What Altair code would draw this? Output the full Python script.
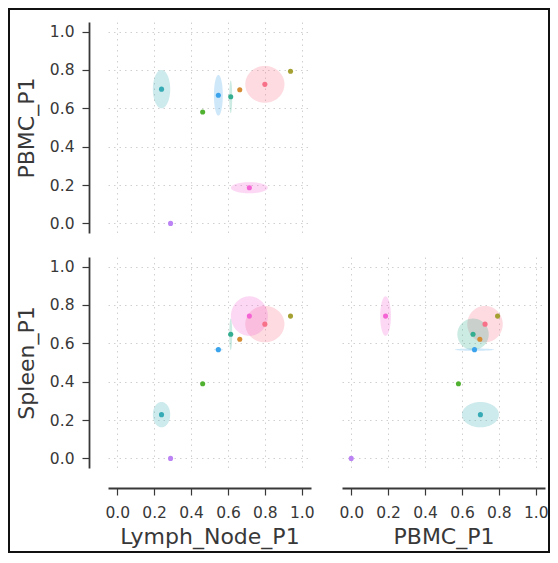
import numpy as np
import pandas as pd
import altair as alt

# ---- data ----
samples = ["c0", "c1", "c2", "c3", "c4", "c5", "c6", "c7", "c8"]
colors = ["#f77189", "#d58c32", "#a4a031", "#50b131", "#34ae91",
          "#37abb5", "#3ba3ec", "#bb83f4", "#f564d4"]
ln_mean = [0.800, 0.664, 0.939, 0.463, 0.615, 0.240, 0.548, 0.289, 0.716]
pbmc_mean = [0.725, 0.697, 0.793, 0.581, 0.660, 0.700, 0.668, 0.000, 0.186]
spleen_mean = [0.700, 0.621, 0.742, 0.389, 0.647, 0.228, 0.567, 0.000, 0.742]
ln_err = [0.106, 0.0, 0.0, 0.0, 0.008, 0.047, 0.024, 0.0, 0.100]
pbmc_err = [0.096, 0.0, 0.0, 0.0, 0.085, 0.100, 0.106, 0.0, 0.029]
spleen_err = [0.095, 0.0, 0.0, 0.0, 0.082, 0.066, 0.006, 0.0, 0.103]
tick_values = [0.0, 0.2, 0.4, 0.6, 0.8, 1.0]

FONT = "DejaVu Sans"
TXT = "#383838"
GRID = "#d0d0d0"
W, H = 203, 211


def ellipse_df(xm, xe, ym, ye):
    t = np.linspace(0, np.pi, 73)
    rows = []
    for s, cx, a, cy, b in zip(samples, xm, xe, ym, ye):
        if a <= 0 or b <= 0:
            continue
        for tt in t:
            rows.append({"sample": s,
                         "ex": cx + a * np.cos(tt),
                         "ey": cy - b * np.sin(tt),
                         "ey2": cy + b * np.sin(tt)})
    return pd.DataFrame(rows)


common = dict(values=tick_values, format=".1f", grid=True, gridColor=GRID,
              gridDash=[1.5, 4], gridWidth=1, labelFont=FONT, titleFont=FONT,
              labelFontSize=15.5, titleFontSize=22, titleFontWeight="normal",
              labelColor=TXT, titleColor=TXT, domainColor=TXT, tickColor=TXT,
              domainWidth=1.8, tickWidth=1.2, tickSize=7, labelFlush=False)
x_full = alt.Axis(offset=20, labelPadding=10, titlePadding=6, **common)
y_full = alt.Axis(offset=19, labelPadding=8, titlePadding=10.5, **common)
grid_only = alt.Axis(values=tick_values, grid=True, gridColor=GRID,
                     gridDash=[1.5, 4], gridWidth=1, labels=False, ticks=False,
                     domain=False)

scale = alt.Scale(domain=[-0.05, 1.05], nice=False, zero=False)
color = alt.Color("sample:N", scale=alt.Scale(domain=samples, range=colors),
                  legend=None)


def panel(xm, xe, ym, ye, xaxis, xtitle, yaxis, ytitle, extra=None):
    pts = pd.DataFrame({"sample": samples, "x": xm, "y": ym})
    ell = ellipse_df(xm, xe, ym, ye)
    e = alt.Chart(ell).mark_area(opacity=0.25).encode(
        x=alt.X("ex:Q", scale=scale, axis=xaxis, title=xtitle),
        y=alt.Y("ey:Q", scale=scale, axis=yaxis, title=ytitle),
        y2="ey2:Q",
        color=color,
        detail="sample:N",
    )
    p = alt.Chart(pts).mark_circle(size=26, opacity=1).encode(
        x=alt.X("x:Q", scale=scale, axis=xaxis, title=xtitle),
        y=alt.Y("y:Q", scale=scale, axis=yaxis, title=ytitle),
        color=color,
    )
    layers = [e, p]
    if extra is not None:
        layers.append(extra)
    return alt.layer(*layers).properties(width=W, height=H)


frame = alt.Chart(pd.DataFrame({"f": [0]})).mark_rect(
    fillOpacity=0, stroke="#111111", strokeWidth=2, clip=False
).encode(x=alt.value(-99), x2=alt.value(441), y=alt.value(-13), y2=alt.value(530))

p11 = panel(ln_mean, ln_err, pbmc_mean, pbmc_err, grid_only, None, y_full, "PBMC_P1", extra=frame)
p21 = panel(ln_mean, ln_err, spleen_mean, spleen_err, x_full, "Lymph_Node_P1", y_full, "Spleen_P1")
p22 = panel(pbmc_mean, pbmc_err, spleen_mean, spleen_err, x_full, "PBMC_P1", grid_only, None)

chart = alt.vconcat(
    p11,
    alt.hconcat(p21, p22, spacing=31, bounds="flush"),
    spacing=24, bounds="flush",
).properties(padding=0).configure_view(strokeWidth=0)

chart.save("out.html", embed_options={"renderer": "svg", "actions": False})
